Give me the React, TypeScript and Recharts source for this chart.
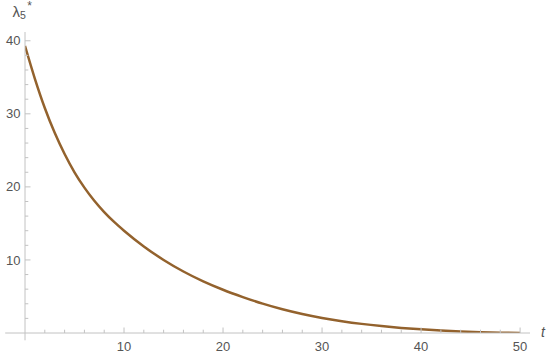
import React from 'react';
import { LineChart, Line, XAxis, YAxis, ReferenceLine } from 'recharts';

const tValues = [0, 1, 2, 3, 4, 5, 6, 7, 8, 9, 10, 12, 14, 16, 18, 20, 22, 24, 26, 28, 30, 32, 34, 36, 38, 40, 42, 44, 46, 48, 50];
const lambdaValues = [39.3, 34.8, 30.8, 27.4, 24.5, 22.0, 19.9, 18.1, 16.55, 15.2, 14.0, 11.85, 10.0, 8.42, 7.07, 5.92, 4.92, 4.02, 3.25, 2.6, 2.06, 1.62, 1.25, 0.95, 0.7, 0.5, 0.34, 0.21, 0.11, 0.04, 0];

const xTicks = [2, 4, 6, 8, 10, 12, 14, 16, 18, 20, 22, 24, 26, 28, 30, 32, 34, 36, 38, 40, 42, 44, 46, 48, 50];
const yTicks = [2, 4, 6, 8, 10, 12, 14, 16, 18, 20, 22, 24, 26, 28, 30, 32, 34, 36, 38, 40];
const xMajor = [10, 20, 30, 40, 50];
const yMajor = [10, 20, 30, 40];

const data = tValues.map((t, i) => ({ t, v: lambdaValues[i] }));

const AXIS = '#c2c2c2';
const LABEL = '#555555';
const FONT = '"Liberation Sans", Arial, sans-serif';

function XTick(props: any) {
  const { x, y, payload } = props;
  const major = xMajor.includes(payload.value);
  return (
    <g>
      <line x1={x} x2={x} y1={y} y2={y - (major ? 5.5 : 3.3)} stroke={AXIS} strokeWidth={1} />
      {major && (
        <text x={x} y={y + 17.5} textAnchor="middle" fill={LABEL} fontSize={13} fontFamily={FONT}>
          {payload.value}
        </text>
      )}
    </g>
  );
}

function YTick(props: any) {
  const { x, y, payload } = props;
  const major = yMajor.includes(payload.value);
  return (
    <g>
      <line x1={x} x2={x + (major ? 5.5 : 3.3)} y1={y} y2={y} stroke={AXIS} strokeWidth={1} />
      {major && (
        <text x={x - 4.5} y={y + 4.6} textAnchor="end" fill={LABEL} fontSize={13} fontFamily={FONT}>
          {payload.value}
        </text>
      )}
    </g>
  );
}

export default function App() {
  return (
    <div style={{ position: 'relative', width: 550, height: 356 }}>
      <style>{`body{margin:0}`}</style>
      <LineChart width={550} height={356} data={data} margin={{ top: 32, right: 20, bottom: 3, left: 5 }}>
        <XAxis
          type="number"
          dataKey="t"
          domain={[0, 51]}
          ticks={xTicks}
          interval={0}
          height={20}
          tickSize={0}
          tickMargin={0}
          tickLine={false}
          axisLine={{ stroke: AXIS }}
          tick={<XTick />}
          allowDataOverflow
        />
        <YAxis
          type="number"
          domain={[0, 41.2]}
          ticks={yTicks}
          interval={0}
          width={20}
          tickSize={0}
          tickMargin={0}
          tickLine={false}
          axisLine={{ stroke: AXIS }}
          tick={<YTick />}
          allowDataOverflow
        />
        <ReferenceLine segment={[{ x: -2, y: 0 }, { x: 0, y: 0 }]} ifOverflow="visible" stroke={AXIS} />
        <ReferenceLine segment={[{ x: 0, y: 0 }, { x: 0, y: -1 }]} ifOverflow="visible" stroke={AXIS} />
        <Line type="monotone" dataKey="v" stroke="#93622d" strokeWidth={2.5} dot={false} isAnimationActive={false} />
      </LineChart>
      <svg width={550} height={356} style={{ position: 'absolute', left: 0, top: 0, pointerEvents: 'none' }}>
        <text x={12.5} y={17} fill={LABEL} fontSize={15} fontFamily={FONT}>
          λ
          <tspan fontSize={10.5} dy={1.5}>5</tspan>
          <tspan fontSize={12} dx={1.5} dy={-8.5}>*</tspan>
        </text>
        <text x={541} y={337} fill={LABEL} fontSize={14} fontStyle="italic" fontFamily={FONT}>
          t
        </text>
      </svg>
    </div>
  );
}
